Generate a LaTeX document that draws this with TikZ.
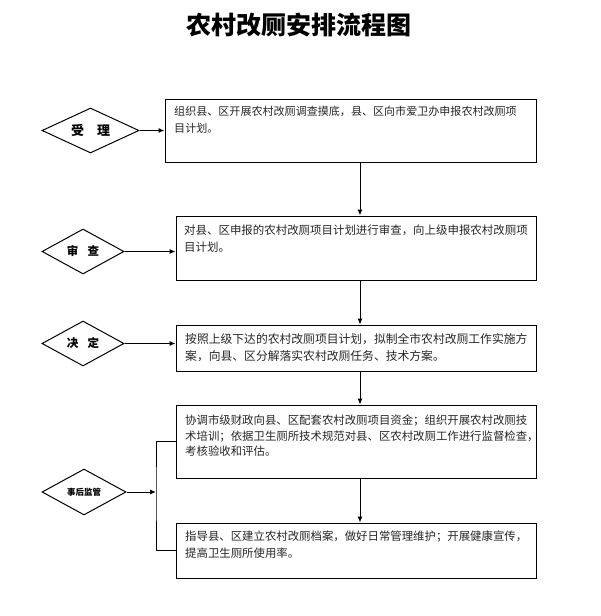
\documentclass[tikz,border=0pt]{standalone}
\usepackage{fontspec}
\setmainfont{Liberation Serif}
\newfontfamily\cjk{Noto Sans CJK SC}
\usetikzlibrary{shapes.geometric,arrows.meta}
\begin{document}
\begin{tikzpicture}[x=1pt,y=-1pt,
  box/.style={draw=black,line width=1pt,rectangle,inner sep=0pt},
  dia/.style={draw=black,line width=1pt,diamond,inner sep=0pt,aspect=2,font=\cjk\bfseries},
  txt/.style={anchor=north west,inner sep=0pt,align=left,font=\cjk\fontsize{11}{17}\selectfont,text=black!85},
  arr/.style={draw=black,line width=1pt,-{Latex[length=6pt,width=5pt]}},
  ln/.style={draw=black,line width=1pt}]
\useasboundingbox (0,0) rectangle (600,616);
\fill[white] (0,0) rectangle (600,616);
\node[font=\cjk\bfseries\fontsize{25}{25}\selectfont] (title) at (299,25) {农村改厕安排流程图};
% boxes
\node[box,minimum width=371pt,minimum height=63pt] (b1) at (350.5,130.5) {};
\node[box,minimum width=360pt,minimum height=64pt] (b2) at (356,248) {};
\node[box,minimum width=360pt,minimum height=46pt] (b3) at (356,348) {};
\node[box,minimum width=360pt,minimum height=73pt] (b4) at (356,441.5) {};
\node[box,minimum width=360pt,minimum height=55pt] (b5) at (356,550.5) {};
% texts
\node[txt,font=\cjk\fontsize{11.05}{17}\selectfont] (t1) at (174,106) {组织县、区开展农村改厕调查摸底，县、区向市爱卫办申报农村改厕项\\目计划。};
\node[txt,font=\cjk\fontsize{11.45}{17}\selectfont] (t2) at (184,225) {对县、区申报的农村改厕项目计划进行审查，向上级申报农村改厕项\\目计划。};
\node[txt,font=\cjk\fontsize{11.8}{17}\selectfont] (t3) at (185,333) {按照上级下达的农村改厕项目计划，拟制全市农村改厕工作实施方\\案，向县、区分解落实农村改厕任务、技术方案。};
\node[txt,font=\cjk\fontsize{11.4}{15.5}\selectfont] (t4) at (185,415) {协调市级财政向县、区配套农村改厕项目资金；组织开展农村改厕技\\术培训；依据卫生厕所技术规范对县、区农村改厕工作进行监督检查，\\考核验收和评估。};
\node[txt,font=\cjk\fontsize{11.4}{17}\selectfont] (t5) at (185,531) {指导县、区建立农村改厕档案，做好日常管理维护；开展健康宣传，\\提高卫生厕所使用率。};
% diamonds
\node[dia,minimum width=97pt,minimum height=45pt,font=\cjk\bfseries\fontsize{13}{13}\selectfont] (d1) at (90.5,130.5) {受\hspace{1em}理};
\node[dia,minimum width=82pt,minimum height=45pt,font=\cjk\bfseries\fontsize{11.5}{11.5}\selectfont] (d2) at (83,251.5) {审\hspace{0.8em}查};
\node[dia,minimum width=82pt,minimum height=45pt,font=\cjk\bfseries\fontsize{11.5}{11.5}\selectfont] (d3) at (83,343.5) {决\hspace{0.8em}定};
\node[dia,minimum width=84pt,minimum height=46pt,font=\cjk\bfseries\fontsize{8.5}{8.5}\selectfont] (d4) at (84,492) {事后监管};
% connectors
\coordinate (cx) at (360,0);
\coordinate (bx) at (156,492);
\draw[arr] (d1.east) -- (d1.east -| b1.west);
\draw[arr] (d2.east) -- (d2.east -| b2.west);
\draw[arr] (d3.east) -- (d3.east -| b3.west);
\draw[arr] (d4.east) -- (bx);
\draw[ln] (b4.west) -| (bx) |- (b5.west);
\draw[arr] (b1.south -| cx) -- (b2.north -| cx);
\draw[arr] (b2.south -| cx) -- (b3.north -| cx);
\draw[arr] (b3.south -| cx) -- (b4.north -| cx);
\draw[arr] (b4.south -| cx) -- (b5.north -| cx);
\end{tikzpicture}
\end{document}
